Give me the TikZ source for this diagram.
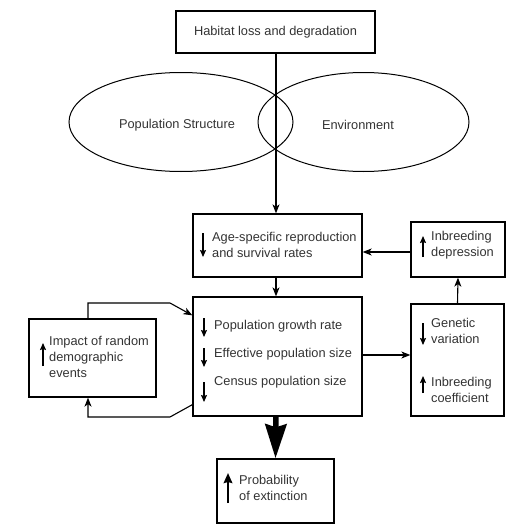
\documentclass[tikz,border=0pt]{standalone}
\usepackage{fontspec}
\setmainfont{Liberation Sans}
\usetikzlibrary{arrows.meta,shapes.geometric,positioning}
\tikzset{
  box/.style={draw, line width=1.3pt, inner sep=0pt},
  oval/.style={draw, ellipse, line width=1pt, inner sep=0pt},
  txt/.style={anchor=west, inner sep=0pt, align=left},
  arr/.style={-{Stealth[length=9pt,width=7pt,inset=2.5pt]}, line width=1.1pt},
  bigarr/.style={-{Stealth[length=34pt,width=21pt,inset=3pt]}, line width=5.5pt},
  updn/.style={-{Stealth[length=7pt,width=6pt,inset=1pt]}, line width=1.2pt},
  bigupdn/.style={-{Stealth[length=10pt,width=8.5pt,inset=1pt]}, line width=2.6pt}
}
\begin{document}
\begin{tikzpicture}[x=1pt, y=-1pt, every node/.style={font=\fontsize{12.8}{16}\selectfont, text=black!80}]
\useasboundingbox (0,0) rectangle (522,530);

\node[box, minimum width=199pt, minimum height=42pt] (habitat) at (275.5,32) {Habitat loss and degradation};
\node[oval, minimum width=224pt, minimum height=99pt] (popstruct) at (181,122) {};
\node[oval, minimum width=211pt, minimum height=99pt] (environ) at (363.5,122) {};
\node (popstructtxt) at (177,125) {Population Structure};
\node (environtxt) at (358,125) {Environment};

\node[box, minimum width=169pt, minimum height=63pt] (age) at (277.5,245.5) {};
\node[box, minimum width=94pt, minimum height=55pt] (indep) at (458,249.5) {};
\node[box, minimum width=169pt, minimum height=119pt] (main) at (277.5,356.5) {};
\node[box, minimum width=93pt, minimum height=112pt] (genetic) at (457.5,360) {};
\node[box, minimum width=127pt, minimum height=78pt] (impact) at (92.5,358) {};
\node[box, minimum width=117pt, minimum height=64pt] (prob) at (275.5,491) {};

\node[txt] (agetxt) at (212,245) {Age-specific reproduction\\and survival rates};
\node[txt] (indeptxt) at (431,245.5) {Inbreeding\\depression};
\node[txt] (growthtxt) at (214,326) {Population growth rate};
\node[txt] (efftxt) at (214,354) {Effective population size};
\node[txt] (censustxt) at (214,382) {Census population size};
\node[txt] (genetictxt) at (431,331) {Genetic\\variation};
\node[txt] (coeftxt) at (431,390) {Inbreeding\\coefficient};
\node[txt] (impacttxt) at (49,357) {Impact of random\\demographic\\events};
\node[txt] (probtxt) at (239,487.5) {Probability\\of extinction};

\draw[updn] (203,233) -- (203,257);
\draw[updn] (423,257) -- (423,236);
\draw[updn] (204,318) -- (204,337);
\draw[updn] (204,348) -- (204,367);
\draw[updn] (204,382) -- (204,402);
\draw[updn] (423,323) -- (423,345);
\draw[updn] (423,393) -- (423,376);
\draw[updn] (43,366) -- (43,343);
\draw[bigupdn] (228,503) -- (228,473);

\coordinate (fbtop) at (170,303);
\coordinate (fbbot) at (170,417);
\draw[arr] ([xshift=0.5pt]habitat.south) -- ([xshift=-1.5pt]age.north);
\draw[arr] ([yshift=-2.5pt]indep.west) -- ([yshift=-6.5pt]age.east);
\draw[arr] ([xshift=-1.5pt]age.south) -- ([xshift=-1.5pt]main.north);
\draw[arr] ([yshift=1.5pt]main.east) -- ([yshift=5pt]genetic.west);
\draw[arr] (genetic.north) -- (indep.south);
\draw[arr] ([xshift=-4.5pt]impact.north) |- (fbtop) -- ([yshift=-19pt]main.north west);
\draw[arr] ([yshift=12pt]main.south west) -- (fbbot) -| ([xshift=-4.5pt]impact.south);
\draw[bigarr] ([xshift=-1.5pt]main.south) -- (prob.north);
\end{tikzpicture}
\end{document}
